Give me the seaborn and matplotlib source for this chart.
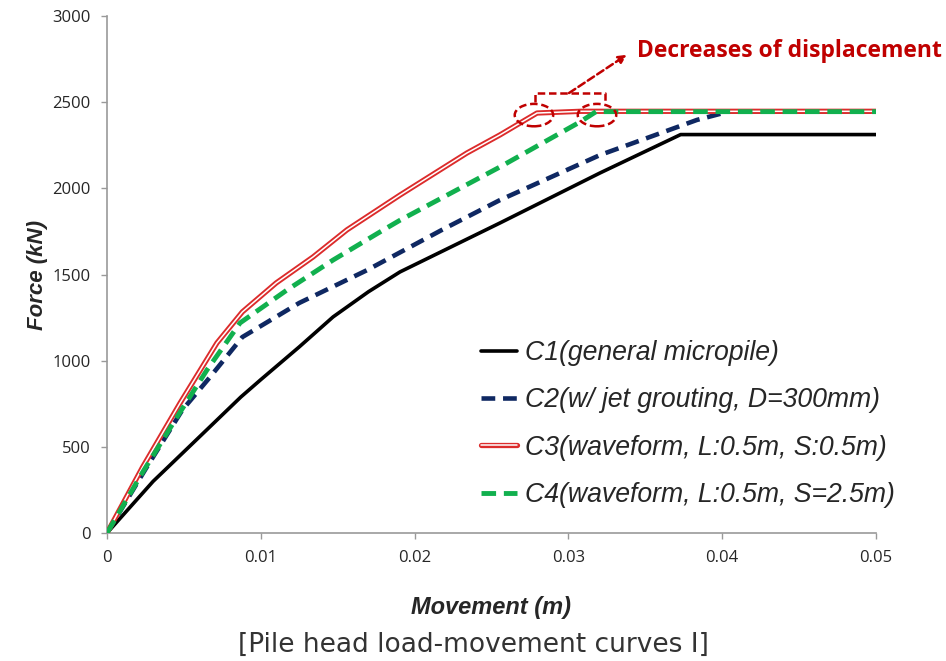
import numpy as np
import pandas as pd
import matplotlib
matplotlib.use("Agg")
import matplotlib.pyplot as plt
import matplotlib.patheffects as pe
from matplotlib.patches import Ellipse
import seaborn as sns

# ---- data ----
c1_x = [0, 0.002, 0.003, 0.0039, 0.0065, 0.0087, 0.0100, 0.0125, 0.0147, 0.0170, 0.01905, 0.02555, 0.03205, 0.0373, 0.0500]
c1_y = [0, 200, 300, 377, 600, 789, 890, 1080, 1254, 1400, 1515, 1799, 2089, 2312, 2312]

c2_x = [0, 0.0025, 0.0049, 0.0067, 0.0088, 0.0125, 0.0169, 0.0218, 0.02555, 0.03205, 0.03836, 0.0405, 0.0500]
c2_y = [0, 370, 714, 905, 1137, 1335, 1525, 1760, 1932, 2193, 2397, 2447, 2447]

c3_x = [0, 0.0023, 0.00475, 0.00715, 0.0088, 0.0110, 0.0134, 0.0156, 0.01905, 0.0234, 0.02555, 0.02796, 0.0308, 0.0500]
c3_y = [0, 380, 754, 1103, 1283, 1451, 1602, 1759, 1961, 2205, 2310, 2437, 2447, 2447]

c4_x = [0, 0.0023, 0.00455, 0.0065, 0.00865, 0.0117, 0.0147, 0.01775, 0.01905, 0.02555, 0.03075, 0.0318, 0.0500]
c4_y = [0, 350, 673, 946, 1219, 1410, 1584, 1747, 1815, 2124, 2385, 2445, 2445]

labels = ["C1(general micropile)",
          "C2(w/ jet grouting, D=300mm)",
          "C3(waveform, L:0.5m, S:0.5m)",
          "C4(waveform, L:0.5m, S=2.5m)"]

x_ticks = [0, 0.01, 0.02, 0.03, 0.04, 0.05]
x_ticklabels = ["0", "0.01", "0.02", "0.03", "0.04", "0.05"]
y_ticks = [0, 500, 1000, 1500, 2000, 2500, 3000]

sns.set_theme(style="white")
plt.rcParams['font.family'] = ['Open Sans', 'DejaVu Sans']

fig = plt.figure(figsize=(9.46, 6.61), dpi=100)
ax = fig.add_axes([0.1131, 0.1936, 0.8129, 0.7822])

df1 = pd.DataFrame({"x": c1_x, "y": c1_y})
df2 = pd.DataFrame({"x": c2_x, "y": c2_y})
df3 = pd.DataFrame({"x": c3_x, "y": c3_y})
df4 = pd.DataFrame({"x": c4_x, "y": c4_y})

red = "#dc2b2b"
sns.lineplot(data=df1, x="x", y="y", ax=ax, sort=False, estimator=None,
             color="black", lw=2.6, label=labels[0])
sns.lineplot(data=df2, x="x", y="y", ax=ax, sort=False, estimator=None,
             color="#0f2862", lw=3.3, label=labels[1])
ax.lines[-1].set_dashes([3.0, 1.7])
sns.lineplot(data=df3, x="x", y="y", ax=ax, sort=False, estimator=None,
             color="white", lw=1.1, label=labels[2], zorder=3,
             path_effects=[pe.Stroke(linewidth=3.8, foreground=red), pe.Normal()])
sns.lineplot(data=df4, x="x", y="y", ax=ax, sort=False, estimator=None,
             color="#11b04e", lw=3.5, label=labels[3], zorder=4)
ax.lines[-1].set_dashes([3.0, 1.6])

ax.set_xlim(0, 0.05)
ax.set_ylim(0, 3000)
ax.set_xticks(x_ticks)
ax.set_xticklabels(x_ticklabels)
ax.set_yticks(y_ticks)
ax.tick_params(axis="both", which="both", direction="out", length=4, width=1,
               color="#999999", labelsize=12, pad=8, bottom=True, left=True)
for s in ["top", "right"]:
    ax.spines[s].set_visible(False)
for s in ["left", "bottom"]:
    ax.spines[s].set_color("#999999")
    ax.spines[s].set_linewidth(1.2)

ax.set_xlabel("Movement (m)", fontsize=17, fontweight="bold", fontstyle="italic",
              family=["Liberation Sans", "DejaVu Sans"], labelpad=22)
ax.set_ylabel("Force (kN)", fontsize=16, fontweight="bold", fontstyle="italic",
              family=["Liberation Sans", "DejaVu Sans"], labelpad=3)

leg = ax.legend(loc="upper left", bbox_to_anchor=(0.455, 0.42), frameon=False,
                prop={"family": "Liberation Sans", "style": "italic", "size": 19.2},
                handlelength=1.35, handletextpad=0.3, labelspacing=0.8)

# annotation
ac = "#c00000"
for cx in [0.02776, 0.03186]:
    ax.add_patch(Ellipse((cx, 2425), 0.0025, 130, fill=False, edgecolor=ac,
                         lw=1.8, ls=(0, (3, 1.5)), zorder=6))
bx = [0.02783, 0.02783, 0.03238, 0.03238]
by = [2500, 2553, 2553, 2500]
ax.plot(bx, by, color=ac, lw=1.8, ls=(0, (3, 1.5)), zorder=6, clip_on=False)
ax.annotate("", xy=(0.0338, 2775), xytext=(0.03004, 2553),
            arrowprops=dict(arrowstyle="-|>", color=ac, lw=1.8, ls=(0, (3, 1.5)),
                            mutation_scale=12, shrinkA=0, shrinkB=0),
            annotation_clip=False, zorder=6)
ax.text(0.03446, 2795, "Decreases of displacement", color=ac, fontsize=16.5,
        fontweight="bold", family=["Open Sans", "DejaVu Sans"], va="center", ha="left")

fig.text(0.5, 0.024, "[Pile head load-movement curves \u2160]", ha="center", va="center",
         fontsize=19, color="#333333", family=["DejaVu Sans"])

fig.savefig("out.png", dpi=100)
